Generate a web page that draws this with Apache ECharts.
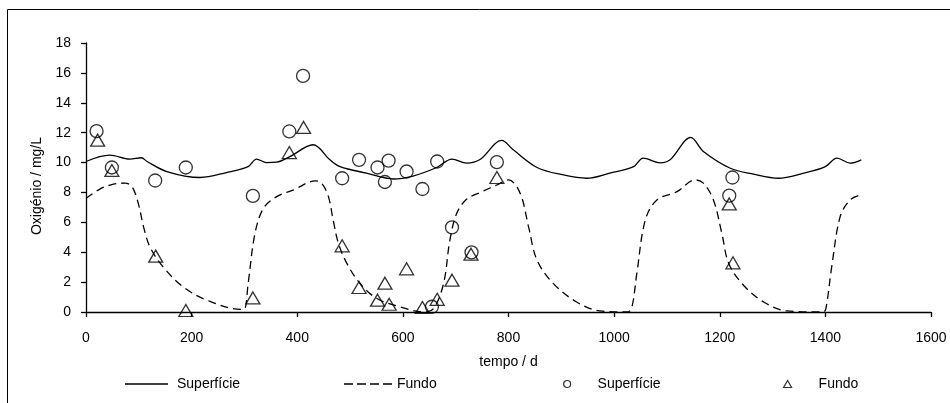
<!DOCTYPE html>
<html>
<head>
<meta charset="utf-8">
<script src="https://cdn.jsdelivr.net/npm/echarts@6/dist/echarts.min.js"></script>
<style>
  html, body { margin: 0; padding: 0; background: #fff; }
  #chart { width: 950px; height: 403px; }
</style>
</head>
<body>
<div id="chart"></div>
<script>
// modelled surface oxygen (solid line)
const surfT = [0, 45, 83, 105, 115, 153, 216, 266, 307, 323, 342, 361, 386, 430, 462, 481, 531, 582, 619, 664, 693, 721, 746,
  787, 809, 854, 904, 948, 992, 1037, 1055, 1087, 1106, 1145, 1169, 1220, 1264, 1311, 1359, 1400, 1422, 1447, 1468];
const surfV = [10.07, 10.5, 10.23, 10.32, 10.09, 9.4, 9.0, 9.33, 9.73, 10.23, 10.0, 10.03, 10.4, 11.19, 10.18, 9.73, 9.29, 8.9, 9.1, 9.67, 10.23, 9.96, 10.2,
  11.48, 10.85, 9.67, 9.17, 8.95, 9.29, 9.73, 10.3, 9.98, 10.18, 11.68, 10.74, 9.62, 9.22, 8.95, 9.29, 9.73, 10.3, 9.96, 10.18];

// modelled bottom oxygen (dashed line)
const fundoT = [0, 27, 52, 74, 87, 99, 109, 121, 146, 184, 229, 292, 300, 307, 320, 336, 361, 393, 434, 446, 459, 468, 478, 494, 519, 551, 595, 639, 658,
  677, 689, 702, 721, 746, 778, 800, 822, 838, 854, 885, 929, 973, 1024, 1033, 1043, 1059, 1081, 1119, 1153, 1169, 1188, 1204, 1217, 1245, 1283, 1327, 1396, 1401,
  1412, 1428, 1447, 1467];
const fundoV = [7.6, 8.24, 8.55, 8.62, 8.39, 7.27, 5.7, 4.36, 3.02, 1.68, 0.79, 0.18, 0.2, 1.9, 5.26, 6.94, 7.72, 8.17, 8.77, 8.62, 7.72, 6.15, 4.59, 3.25, 1.9, 0.9, 0.34, 0.0, 0.23,
  1.9, 4.81, 6.6, 7.56, 7.99, 8.5, 8.84, 7.95, 5.7, 3.47, 1.9, 0.67, 0.07, 0.0, 0.23, 2.58, 6.15, 7.5, 8.05, 8.84, 8.62, 7.5, 5.26, 3.25, 1.79, 0.67, 0.07, 0.0, 0.23,
  3.02, 6.38, 7.5, 7.83];

// measured surface oxygen (circles)
const obsSurfT = [20, 49, 131, 189, 316, 385, 411, 485, 517, 552, 566, 573, 607, 637, 655, 665, 693, 730, 778, 1218, 1224];
const obsSurfV = [12.1, 9.67, 8.8, 9.67, 7.77, 12.08, 15.8, 8.95, 10.18, 9.67, 8.7, 10.13, 9.4, 8.23, 0.35, 10.07, 5.66, 3.99, 10.03, 7.79, 9.0];

// measured bottom oxygen (triangles)
const obsFundoT = [22, 49, 132, 189, 316, 385, 412, 485, 517, 552, 566, 574, 607, 637, 665, 693, 729, 778, 1218, 1225];
const obsFundoV = [11.5, 9.47, 3.74, 0.1, 0.94, 10.67, 12.35, 4.43, 1.64, 0.79, 1.93, 0.52, 2.89, 0.3, 0.85, 2.13, 3.87, 9.0, 7.23, 3.29];

const xTicks = [0, 200, 400, 600, 800, 1000, 1200, 1400, 1600];
const yTicks = [0, 2, 4, 6, 8, 10, 12, 14, 16, 18];

const zip = (a, b) => a.map((v, i) => [v, b[i]]);
const FONT = '"Liberation Sans", Arial, sans-serif';
const txt = { color: '#000', fontFamily: FONT, fontSize: 14 };
const withPad = p => Object.assign({}, txt, { padding: p });

const solidIcon = 'path://M0,0H43V1.3H0Z';
const dashIcon = 'path://M0,0H9V1.3H0Z M13,0H22V1.3H13Z M26,0H35V1.3H26Z M39,0H48V1.3H39Z';
const hollow = { color: 'transparent', borderColor: '#000', borderWidth: 1.2 };

const chart = echarts.init(document.getElementById('chart'), null, { renderer: 'canvas' });

const legendBase = {
  top: 377,
  padding: 0,
  textStyle: txt,
  itemGap: 0,
  formatter: name => name.replace(' (obs)', ''),
  inactiveColor: '#000'
};

chart.setOption({
  animation: false,
  backgroundColor: '#fff',
  grid: { left: 86, right: 19, top: 43, bottom: 91, containLabel: false },
  graphic: [{
    type: 'rect',
    shape: { x: 7.5, y: 9.5, width: 1000, height: 500 },
    style: { fill: 'none', stroke: '#000', lineWidth: 1 },
    silent: true
  }],
  legend: [
    Object.assign({}, legendBase, { left: 125, data: [{ name: 'Superfície', icon: solidIcon }],
      itemWidth: 43, itemHeight: 1.3, textStyle: withPad([0, 0, 0, 4]) }),
    Object.assign({}, legendBase, { left: 344, data: [{ name: 'Fundo', icon: dashIcon }],
      itemWidth: 48, itemHeight: 1.3, textStyle: withPad([0, 0, 0, 0]) }),
    Object.assign({}, legendBase, { left: 563, data: [{ name: 'Superfície (obs)', icon: 'circle' }],
      itemWidth: 7, itemHeight: 7, itemStyle: hollow, textStyle: withPad([0, 0, 0, 22]) }),
    Object.assign({}, legendBase, { left: 783, data: [{ name: 'Fundo (obs)', icon: 'triangle' }],
      itemWidth: 8, itemHeight: 7, itemStyle: hollow, textStyle: withPad([0, 0, 0, 22]) })
  ],
  xAxis: {
    type: 'value',
    min: xTicks[0],
    max: xTicks[xTicks.length - 1],
    interval: 200,
    name: 'tempo / d',
    nameLocation: 'middle',
    nameGap: 43,
    nameTextStyle: txt,
    axisLine: { lineStyle: { color: '#000', width: 1.3 } },
    axisTick: { show: true, length: 5, lineStyle: { color: '#000', width: 1.3 } },
    axisLabel: Object.assign({ margin: 19, formatter: v => String(v) }, txt),
    splitLine: { show: false }
  },
  yAxis: {
    type: 'value',
    min: yTicks[0],
    max: yTicks[yTicks.length - 1],
    interval: 2,
    name: 'Oxigénio / mg/L',
    nameLocation: 'middle',
    nameGap: 33,
    nameTextStyle: withPad([0, 17, 0, 0]),
    axisLine: { show: true, lineStyle: { color: '#000', width: 1.3 } },
    axisTick: { show: true, length: 5, lineStyle: { color: '#000', width: 1.3 } },
    axisLabel: Object.assign({ margin: 15, formatter: v => String(v) }, txt),
    splitLine: { show: false }
  },
  series: [
    {
      name: 'Superfície',
      type: 'line',
      data: zip(surfT, surfV),
      symbol: 'none',
      smooth: 0.35,
      lineStyle: { color: '#000', width: 1.3, type: 'solid' },
      itemStyle: { color: '#000' },
      z: 2
    },
    {
      name: 'Fundo',
      type: 'line',
      data: zip(fundoT, fundoV),
      symbol: 'none',
      smooth: 0.35,
      lineStyle: { color: '#000', width: 1.3, type: [8, 5] },
      itemStyle: { color: '#000' },
      z: 2
    },
    {
      name: 'Superfície (obs)',
      type: 'scatter',
      data: zip(obsSurfT, obsSurfV),
      symbol: 'circle',
      symbolSize: 13,
      itemStyle: { color: 'transparent', borderColor: '#000', borderWidth: 1.3 },
      z: 3
    },
    {
      name: 'Fundo (obs)',
      type: 'scatter',
      data: zip(obsFundoT, obsFundoV),
      symbol: 'triangle',
      symbolSize: [14, 12],
      itemStyle: { color: 'transparent', borderColor: '#000', borderWidth: 1.3 },
      z: 3
    }
  ]
});
</script>
</body>
</html>
